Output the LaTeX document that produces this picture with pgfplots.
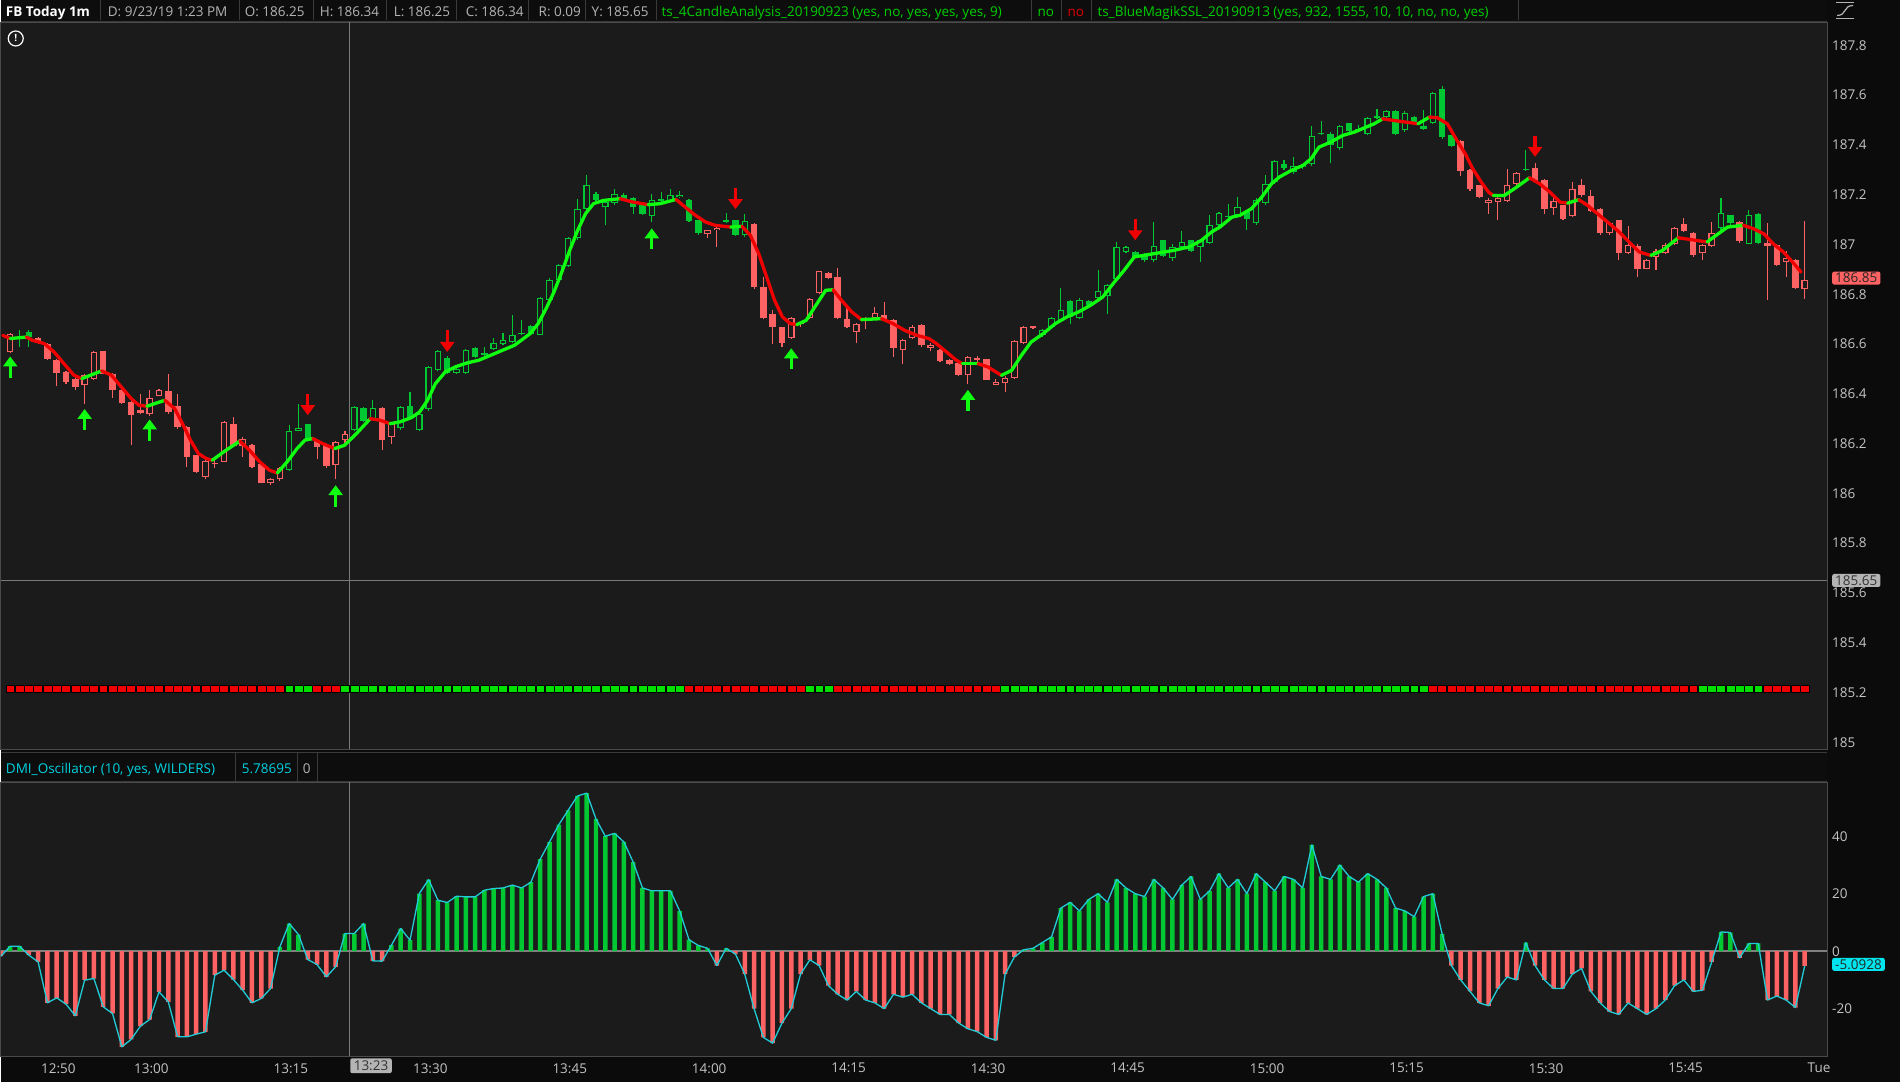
\documentclass[border=0pt]{standalone}
\usepackage{pgfplots}
\pgfplotsset{compat=1.18}
\usepackage{pgfplotstable}
\usepackage{fontspec}
\setmainfont{Open Sans}
\usetikzlibrary{arrows.meta}

\definecolor{bgout}{HTML}{0B0B0B}
\definecolor{hdrbg}{HTML}{0D0D0D}
\definecolor{hdrline}{HTML}{3A3A3A}
\definecolor{hdrgrey}{HTML}{B4B4B4}
\definecolor{hdrgreen}{HTML}{00D000}
\definecolor{hdrred}{HTML}{E00000}
\definecolor{hdrcyan}{HTML}{00D2E0}
\definecolor{plotbg}{HTML}{1B1B1B}
\definecolor{frame}{HTML}{4A4A4A}
\definecolor{ticktxt}{HTML}{C4C4C4}
\definecolor{cgreen}{HTML}{00C832}
\definecolor{cred}{HTML}{FF6262}
\definecolor{sslgreen}{HTML}{10FF10}
\definecolor{sslred}{HTML}{F00000}
\definecolor{bandred}{HTML}{F00000}
\definecolor{bandgreen}{HTML}{00E000}
\definecolor{dmicyan}{HTML}{22CCD6}
\definecolor{cross}{HTML}{7A7A7A}
\definecolor{zeroline}{HTML}{808080}
\definecolor{boxgrey}{HTML}{B4B4B4}
\definecolor{boxcyan}{HTML}{00E5EE}

\newcommand\hf{\fontsize{13.5}{16}\selectfont}

% t = minutes after 12:00; g = candle colour (1 green); b = band colour (1 green)
\pgfplotstableread{
t o h l c g b
46 186.568 186.645 186.565 186.639 0 0
47 186.620 186.655 186.590 186.625 1 0
48 186.650 186.655 186.590 186.630 1 0
49 186.625 186.628 186.600 186.605 0 0
50 186.600 186.605 186.535 186.540 0 0
51 186.535 186.540 186.430 186.485 0 0
52 186.487 186.490 186.440 186.448 0 0
53 186.460 186.470 186.414 186.428 0 0
54 186.437 186.480 186.360 186.475 0 0
55 186.460 186.570 186.455 186.568 0 0
56 186.571 186.571 186.478 186.481 0 0
57 186.481 186.485 186.385 186.414 0 0
58 186.414 186.420 186.360 186.363 0 0
59 186.367 186.370 186.194 186.314 0 0
60 186.334 186.400 186.318 186.321 0 0
61 186.317 186.414 186.310 186.385 0 0
62 186.392 186.420 186.390 186.417 0 0
63 186.410 186.481 186.320 186.327 0 0
64 186.350 186.400 186.260 186.267 0 0
65 186.267 186.270 186.106 186.147 0 0
66 186.153 186.155 186.080 186.084 0 0
67 186.066 186.135 186.056 186.129 0 0
68 186.120 186.140 186.100 186.120 0 0
69 186.127 186.290 186.125 186.287 0 0
70 186.277 186.307 186.190 186.191 0 0
71 186.191 186.225 186.147 186.219 0 0
72 186.194 186.200 186.100 186.106 0 0
73 186.117 186.120 186.040 186.042 0 0
74 186.040 186.060 186.035 186.056 0 0
75 186.056 186.105 186.050 186.100 0 0
76 186.093 186.274 186.090 186.250 1 1
77 186.251 186.361 186.250 186.264 1 1
78 186.277 186.280 186.210 186.216 1 1
79 186.216 186.220 186.140 186.187 0 0
80 186.194 186.200 186.100 186.109 0 0
81 186.113 186.210 186.056 186.207 0 0
82 186.216 186.250 186.190 186.240 0 1
83 186.256 186.350 186.250 186.345 1 1
84 186.341 186.345 186.285 186.291 1 1
85 186.300 186.377 186.295 186.341 1 1
86 186.341 186.345 186.176 186.216 0 1
87 186.227 186.285 186.200 186.280 0 1
88 186.264 186.350 186.255 186.345 1 1
89 186.350 186.408 186.300 186.305 1 1
90 186.254 186.325 186.250 186.318 1 1
91 186.337 186.510 186.330 186.508 1 1
92 186.495 186.575 186.490 186.571 1 1
93 186.544 186.550 186.480 186.485 1 1
94 186.485 186.510 186.480 186.500 1 1
95 186.485 186.580 186.480 186.575 1 1
96 186.586 186.590 186.545 186.548 1 1
97 186.556 186.590 186.550 186.558 1 1
98 186.579 186.625 186.575 186.604 1 1
99 186.600 186.645 186.595 186.615 1 1
100 186.608 186.718 186.605 186.638 1 1
101 186.640 186.698 186.635 186.645 1 1
102 186.672 186.675 186.640 186.642 1 1
103 186.638 186.790 186.635 186.786 1 1
104 186.778 186.865 186.770 186.859 1 1
105 186.859 186.920 186.855 186.916 1 1
106 186.912 187.030 186.910 187.027 1 1
107 187.026 187.181 187.020 187.141 1 1
108 187.144 187.278 187.140 187.238 1 1
109 187.204 187.210 187.170 187.177 1 1
110 187.150 187.175 187.077 187.171 1 1
111 187.166 187.224 187.160 187.204 1 1
112 187.200 187.205 187.175 187.180 1 1
113 187.188 187.190 187.123 187.150 1 1
114 187.157 187.160 187.120 187.124 1 1
115 187.114 187.204 187.090 187.177 1 1
116 187.175 187.210 187.170 187.180 1 1
117 187.175 187.224 187.170 187.200 1 1
118 187.190 187.215 187.185 187.200 1 1
119 187.180 187.182 187.090 187.093 1 0
120 187.097 187.100 187.040 187.046 1 0
121 187.041 187.060 187.027 187.057 0 0
122 187.057 187.072 186.990 187.068 0 0
123 187.090 187.127 187.088 187.097 1 0
124 187.097 187.100 187.035 187.039 1 0
125 187.037 187.124 187.030 187.094 1 0
126 187.081 187.085 186.820 186.829 0 0
127 186.829 186.870 186.700 186.705 0 0
128 186.719 186.735 186.600 186.668 0 0
129 186.668 186.670 186.588 186.604 0 0
130 186.626 186.710 186.620 186.706 0 0
131 186.680 186.690 186.670 186.682 0 0
132 186.705 186.785 186.700 186.780 0 1
133 186.805 186.895 186.800 186.893 0 1
134 186.885 186.890 186.860 186.865 0 1
135 186.869 186.907 186.700 186.705 0 0
136 186.702 186.745 186.665 186.668 0 0
137 186.648 186.685 186.604 186.679 0 0
138 186.700 186.710 186.660 186.700 0 0
139 186.706 186.750 186.700 186.725 0 0
140 186.718 186.770 186.695 186.700 0 0
141 186.698 186.700 186.548 186.585 0 0
142 186.575 186.620 186.520 186.615 0 0
143 186.626 186.675 186.620 186.668 0 0
144 186.675 186.680 186.590 186.595 0 0
145 186.585 186.605 186.570 186.596 0 0
146 186.578 186.580 186.528 186.532 0 0
147 186.535 186.540 186.515 186.518 0 0
148 186.525 186.530 186.470 186.474 0 0
149 186.474 186.552 186.440 186.548 0 0
150 186.537 186.550 186.525 186.538 0 0
151 186.538 186.540 186.455 186.457 0 0
152 186.437 186.460 186.435 186.448 0 0
153 186.445 186.470 186.407 186.464 0 1
154 186.464 186.615 186.460 186.612 0 1
155 186.604 186.672 186.600 186.668 0 1
156 186.665 186.672 186.660 186.668 0 1
157 186.635 186.660 186.630 186.655 1 1
158 186.668 186.710 186.660 186.706 1 1
159 186.695 186.826 186.690 186.738 1 1
160 186.771 186.775 186.680 186.709 1 1
161 186.706 186.784 186.700 186.778 1 1
162 186.772 186.775 186.755 186.758 1 1
163 186.785 186.896 186.780 186.812 1 1
164 186.793 186.842 186.720 186.838 1 1
165 186.860 187.010 186.855 186.990 1 1
166 186.970 186.995 186.965 186.990 1 1
167 186.970 186.975 186.944 186.947 1 1
168 186.960 186.965 186.930 186.936 1 1
169 186.936 187.090 186.930 186.994 1 1
170 187.017 187.020 186.950 186.952 1 1
171 186.947 187.000 186.935 186.990 1 1
172 186.990 187.056 186.985 187.010 1 1
173 187.017 187.020 186.970 186.974 1 1
174 186.990 187.020 186.930 187.017 1 1
175 187.007 187.117 187.000 187.079 1 1
176 187.077 187.130 187.070 187.126 1 1
177 187.110 187.164 187.105 187.112 1 1
178 187.117 187.190 187.110 187.150 1 1
179 187.130 187.135 187.057 187.103 1 1
180 187.087 187.185 187.080 187.180 1 1
181 187.168 187.278 187.160 187.241 1 1
182 187.250 187.340 187.245 187.335 1 1
183 187.324 187.338 187.300 187.307 1 1
184 187.291 187.350 187.285 187.314 1 1
185 187.310 187.325 187.305 187.320 1 1
186 187.322 187.476 187.315 187.435 1 1
187 187.443 187.498 187.440 187.447 1 1
188 187.445 187.450 187.327 187.398 1 1
189 187.387 187.480 187.380 187.476 1 1
190 187.489 187.490 187.450 187.456 1 1
191 187.460 187.480 187.455 187.465 1 1
192 187.445 187.512 187.440 187.508 1 1
193 187.509 187.545 187.505 187.514 1 1
194 187.512 187.540 187.508 187.535 1 1
195 187.536 187.540 187.438 187.445 1 1
196 187.458 187.535 187.450 187.528 1 1
197 187.512 187.515 187.480 187.485 1 1
198 187.478 187.541 187.460 187.465 1 1
199 187.488 187.612 187.485 187.608 1 0
200 187.626 187.635 187.425 187.431 1 0
201 187.438 187.440 187.390 187.394 1 0
202 187.414 187.420 187.275 187.295 0 0
203 187.300 187.305 187.215 187.221 0 0
204 187.237 187.240 187.185 187.190 0 0
205 187.166 187.185 187.124 187.180 0 0
206 187.170 187.192 187.100 187.188 0 0
207 187.175 187.304 187.170 187.240 0 0
208 187.244 187.292 187.240 187.288 0 0
209 187.298 187.378 187.295 187.300 1 0
210 187.308 187.327 187.250 187.257 0 0
211 187.261 187.265 187.124 187.144 0 0
212 187.146 187.190 187.117 187.173 0 0
213 187.157 187.160 187.098 187.103 0 0
214 187.114 187.250 187.110 187.224 0 0
215 187.237 187.264 187.190 187.197 0 0
216 187.194 187.220 187.130 187.134 0 0
217 187.144 187.148 187.040 187.046 0 0
218 187.046 187.090 187.040 187.087 0 0
219 187.097 187.100 186.936 186.966 0 0
220 186.966 187.074 186.960 186.999 0 0
221 186.994 187.000 186.869 186.903 0 0
222 186.903 186.940 186.900 186.936 0 0
223 186.950 186.980 186.896 186.974 0 0
224 186.966 187.004 186.960 186.999 0 0
225 187.003 187.070 186.998 187.067 0 0
226 187.081 187.107 187.050 187.054 0 0
227 187.047 187.050 186.950 186.956 0 0
228 186.967 187.000 186.936 186.996 0 1
229 186.994 187.090 186.990 187.046 0 1
230 187.066 187.188 187.060 187.126 1 1
231 187.117 187.120 187.080 187.086 1 1
232 187.090 187.095 187.005 187.012 0 1
233 187.003 187.137 187.000 187.120 1 1
234 187.121 187.125 187.000 187.007 1 1
235 187.007 187.086 186.778 186.992 0 0
236 186.996 187.000 186.915 186.919 0 0
237 186.930 186.975 186.870 186.945 0 0
238 186.939 186.940 186.820 186.826 0 0
239 186.822 187.094 186.782 186.858 0 0
}\candles

\pgfplotstableread{
t v
45 -1.74
46 1.74
47 1.74
48 -1.39
49 -3.71
50 -17.97
51 -16.23
52 -18.43
53 -22.49
54 -10.09
55 -9.51
56 -19.36
57 -21.68
58 -33.28
59 -30.72
60 -26.09
61 -23.77
62 -14.15
63 -17.62
64 -29.8
65 -29.8
66 -28.87
67 -28.06
68 -8.35
69 -6.61
70 -9.86
71 -13.57
72 -17.97
73 -16.46
74 -12.99
75 1.51
76 9.62
77 5.8
78 -2.9
79 -4.64
80 -8.93
81 -5.45
82 6.15
83 6.15
84 9.62
85 -3.36
86 -3.48
87 2.09
88 7.88
89 3.83
90 20.06
91 24.93
92 17.74
93 16.93
94 19.13
95 18.9
96 18.9
97 21.22
98 21.8
99 22
100 23
101 22
102 24
103 32
104 38
105 44
106 49
107 54
108 55
109 46
110 40
111 41
112 38
113 31
114 22
115 21
116 21
117 21
118 14
119 4
120 2
121 1
122 -5
123 1
124 -1
125 -8
126 -20
127 -30
128 -32
129 -25
130 -20
131 -8
132 -3
133 -5
134 -12
135 -15
136 -17
137 -14
138 -17
139 -18
140 -20
141 -15
142 -16
143 -15
144 -18
145 -20
146 -22
147 -22
148 -25
149 -27
150 -28
151 -30
152 -31
153 -8
154 -2
155 0.5
156 1
157 3
158 5
159 15
160 17
161 14
162 18
163 20
164 17
165 25
166 22
167 20
168 19
169 25
170 22
171 18
172 23
173 26
174 18
175 21
176 27
177 22
178 25
179 20
180 27
181 24
182 21
183 26
184 25
185 22
186 37
187 26
188 25
189 30
190 26
191 24
192 27
193 25
194 22
195 15
196 14
197 12
198 19
199 20
200 6
201 -5
202 -10
203 -14
204 -18
205 -19
206 -13
207 -9
208 -10
209 3
210 -5
211 -10
212 -13
213 -13
214 -8
215 -6
216 -14
217 -18
218 -21
219 -22
220 -18
221 -20
222 -22
223 -20
224 -17
225 -12
226 -10
227 -14
228 -13.6
229 -3.7
230 6.7
231 6.5
232 -2.3
233 2.7
234 2.7
235 -17
236 -15.6
237 -17
238 -19.6
239 -5.0928
}\dmi

\pgfplotstableread{
t y v
46 186.462 0.088
54 186.254 0.085
61 186.210 0.087
81 185.947 0.086
115 186.981 0.084
130 186.499 0.084
149 186.331 0.085
}\uparrows

\pgfplotstableread{
t y v
78 186.400 -0.086
93 186.655 -0.087
124 187.226 -0.084
167 187.103 -0.086
210 187.435 -0.083
}\downarrows

\pgfplotsset{
  sslr/.style={sslred, line width=3.3pt, line join=round, line cap=round},
  sslg/.style={sslgreen, line width=3.3pt, line join=round, line cap=round},
  kind/.style={restrict expr to domain={2*\thisrow{g}+(\thisrow{c}>\thisrow{o})}{#1}},
}

\begin{document}
\begin{tikzpicture}[x=1pt,y=1pt]
\fill[bgout] (0,0) rectangle (1900,1082);

% top header strip
\fill[hdrbg] (0,1061) rectangle (1827,1082);
\draw[hdrline] (0,1061.5) -- (1827,1061.5);
\foreach \s in {100,239,313,386,456,528,585,656,1031,1061,1091,1518}
  \draw[hdrline, line width=1pt] (\s,1062) -- (\s,1082);
\begin{scope}[every node/.style={anchor=base west, inner sep=0pt, font=\hf}]
\node[text=white] at (5,1066) {\bfseries FB Today 1m};
\node[text=hdrgrey] at (107,1066) {D: 9/23/19 1:23 PM};
\node[text=hdrgrey] at (244,1066) {O: 186.25};
\node[text=hdrgrey] at (319,1066) {H: 186.34};
\node[text=hdrgrey] at (393,1066) {L: 186.25};
\node[text=hdrgrey] at (465,1066) {C: 186.34};
\node[text=hdrgrey] at (538,1066) {R: 0.09};
\node[text=hdrgrey] at (591,1066) {Y: 185.65};
\node[text=hdrgreen] at (661,1066) {ts\_4CandleAnalysis\_20190923 (yes, no, yes, yes, yes, 9)};
\node[text=hdrgreen] at (1037,1066) {no};
\node[text=hdrred] at (1067,1066) {no};
\node[text=hdrgreen] at (1097,1066) {ts\_BlueMagikSSL\_20190913 (yes, 932, 1555, 10, 10, no, no, yes)};
\end{scope}
% small tool icon, top right
\draw[hdrgrey, line width=1.4pt] (1836,1064) -- (1854,1064) (1836,1080) -- (1854,1080);
\draw[hdrgrey, line width=1.2pt] (1837,1067) .. controls (1847,1067) and (1843,1077) .. (1853,1077);

% oscillator header strip
\fill[hdrbg] (0,301) rectangle (1827,330);
\draw[hdrline, line width=1pt] (0,330) -- (1827,330) (0,301) -- (1827,301);
\foreach \s in {235,297,317}
  \draw[hdrline, line width=1pt] (\s,301) -- (\s,330);
\begin{scope}[every node/.style={anchor=base west, inner sep=0pt, font=\hf}]
\node[text=hdrcyan] at (5,309) {DMI\_Oscillator (10, yes, WILDERS)};
\node[text=hdrcyan] at (241,309) {5.78695};
\node[text=hdrgrey] at (302,309) {0};
\end{scope}

% price panel
\begin{axis}[
  at={(0pt,333pt)}, anchor=south west, scale only axis,
  width=1827pt, height=727pt,
  xmin=44.98, xmax=241.4, ymin=184.972, ymax=187.892,
  axis background/.style={fill=plotbg},
  axis line style={draw=frame, line width=1pt},
  clip mode=individual,
  xtick=\empty,
  ytick={185,185.2,185.4,185.6,185.8,186,186.2,186.4,186.6,186.8,187,187.2,187.4,187.6,187.8},
  yticklabel pos=right,
  major tick length=0pt,
  /pgf/number format/assume math mode=true,
  tick label style={font=\hf, text=ticktxt},
  yticklabel style={anchor=west, inner sep=0pt, xshift=5pt,
    /pgf/number format/fixed, /pgf/number format/precision=1},
  extra x ticks={82.5}, extra x tick labels={},
  extra x tick style={grid=major, major grid style={draw=cross, line width=1.2pt}},
  extra y ticks={185.65}, extra y tick labels={185.65},
  extra y tick style={grid=major, major grid style={draw=cross, line width=1.2pt},
    yticklabel style={fill=boxgrey, text=black!80, inner xsep=3pt, inner ysep=1.5pt, rounded corners=2pt}},
]
% wicks
\addplot[quiver={u=0, v={\thisrow{h}-\thisrow{l}}}, draw=cred, line width=1.1pt,
  restrict expr to domain={\thisrow{g}}{-0.5:0.5}] table[x=t, y=l] {\candles};
\addplot[quiver={u=0, v={\thisrow{h}-\thisrow{l}}}, draw=cgreen, line width=1.1pt,
  restrict expr to domain={\thisrow{g}}{0.5:1.5}] table[x=t, y=l] {\candles};
% filled bodies (close below open)
\addplot[quiver={u=0, v={min(\thisrow{c}-\thisrow{o},-0.004)}}, draw=cred, line width=6.5pt,
  kind={-0.5:0.5}] table[x=t, y=o] {\candles};
\addplot[quiver={u=0, v={min(\thisrow{c}-\thisrow{o},-0.004)}}, draw=cgreen, line width=6.5pt,
  kind={1.5:2.5}] table[x=t, y=o] {\candles};
% hollow bodies (close above open)
\addplot[quiver={u=0, v={max(\thisrow{c}-\thisrow{o},0.006)}}, draw=cred, line width=6.5pt,
  kind={0.5:1.5}] table[x=t, y=o] {\candles};
\addplot[quiver={u=0, v={max(\thisrow{c}-\thisrow{o}-0.008,0)}}, draw=plotbg, line width=4.2pt,
  kind={0.5:1.5}] table[x=t, y expr=\thisrow{o}+0.004] {\candles};
\addplot[quiver={u=0, v={max(\thisrow{c}-\thisrow{o},0.006)}}, draw=cgreen, line width=6.5pt,
  kind={2.5:3.5}] table[x=t, y=o] {\candles};
\addplot[quiver={u=0, v={max(\thisrow{c}-\thisrow{o}-0.008,0)}}, draw=plotbg, line width=4.2pt,
  kind={2.5:3.5}] table[x=t, y expr=\thisrow{o}+0.004] {\candles};

% trend line
\addplot[sslr] coordinates {(45.2,186.635) (46,186.622)};
\addplot[sslg] coordinates {(46,186.622) (47.74,186.628)};
\addplot[sslr] coordinates {(47.74,186.628) (48.38,186.615) (49.65,186.602) (50.72,186.568) (51.78,186.521) (52.84,186.475) (53.69,186.461)};
\addplot[sslg] coordinates {(53.69,186.461) (55.82,186.492)};
\addplot[sslr] coordinates {(55.82,186.492) (56.88,186.475) (57.94,186.428) (59.0,186.381) (59.85,186.354) (60.7,186.350)};
\addplot[sslg] coordinates {(60.7,186.350) (62.62,186.374)};
\addplot[sslr] coordinates {(62.62,186.374) (63.68,186.341) (64.53,186.28) (65.38,186.214) (66.23,186.16) (67.08,186.14) (67.72,186.133)};
\addplot[sslg] coordinates {(67.72,186.133) (69.2,186.173) (70.69,186.21)};
\addplot[sslr] coordinates {(70.69,186.21) (71.75,186.173) (72.82,186.127) (73.88,186.093) (74.73,186.082)};
\addplot[sslg] coordinates {(74.73,186.082) (75.79,186.127) (76.85,186.18) (77.7,186.214) (78.55,186.22)};
\addplot[sslr] coordinates {(78.55,186.22) (79.6,186.2) (80.89,186.18)};
\addplot[sslg] coordinates {(80.89,186.18) (81.95,186.193) (83.23,186.24) (84.72,186.3)};
\addplot[sslr] coordinates {(84.72,186.3) (85.78,186.294) (86.84,186.28)};
\addplot[sslg] coordinates {(86.84,186.28) (87.9,186.287) (89.18,186.305) (90.03,186.327) (90.88,186.374) (91.73,186.441) (92.79,186.488) (93.85,186.508) (95.13,186.524) (96.4,186.535) (97.68,186.555) (98.95,186.575) (100.23,186.595) (101.93,186.642) (102.78,186.682) (103.63,186.742) (104.48,186.809) (105.33,186.89) (106.18,186.977) (107.03,187.057) (107.88,187.124) (108.73,187.164) (109.79,187.177) (111.6,187.184)};
\addplot[sslr] coordinates {(111.6,187.184) (112.9,187.171) (114.6,187.16)};
\addplot[sslg] coordinates {(114.6,187.16) (115.9,187.164) (117.6,187.181)};
\addplot[sslr] coordinates {(117.6,187.181) (118.6,187.15) (119.7,187.117) (120.8,187.09) (121.8,187.077) (123.5,187.07)};
\addplot[sslg] coordinates {(123.5,187.07) (124.7,187.073)};
\addplot[sslr] coordinates {(124.7,187.073) (125.6,187.037) (126.5,186.963) (127.35,186.87) (128.2,186.776) (129.05,186.709) (129.9,186.682) (130.6,186.678)};
\addplot[sslg] coordinates {(130.6,186.678) (131.6,186.695) (132.66,186.756) (133.7,186.816) (134.5,186.818)};
\addplot[sslr] coordinates {(134.5,186.818) (135.4,186.776) (136.5,186.729) (137.55,186.698)};
\addplot[sslg] coordinates {(137.55,186.698) (139.7,186.702)};
\addplot[sslr] coordinates {(139.7,186.702) (140.95,186.682) (142.2,186.655) (143.5,186.635) (144.8,186.622) (145.6,186.602) (146.7,186.568) (147.75,186.535) (148.4,186.521)};
\addplot[sslg] coordinates {(148.4,186.521) (150.1,186.521)};
\addplot[sslr] coordinates {(150.1,186.521) (151.15,186.508) (152.0,186.488) (152.6,186.474)};
\addplot[sslg] coordinates {(152.6,186.474) (153.7,186.494) (154.76,186.555) (155.8,186.608) (157.1,186.642) (158.4,186.682) (159.65,186.709) (160.9,186.729) (162.2,186.756) (163.5,186.789) (164.75,186.849) (165.8,186.896) (166.9,186.95) (169.0,186.963) (171.1,186.976) (172.8,186.99) (174.1,187.016) (175.2,187.05) (176.1,187.07) (177.4,187.11) (178.25,187.117) (179.5,187.144) (180.6,187.19) (181.65,187.244) (182.5,187.271) (183.8,187.298) (185.05,187.318) (185.9,187.344) (186.75,187.391) (188.0,187.411) (189.3,187.438) (190.6,187.452) (191.85,187.472) (192.7,187.485) (193.6,187.505)};
\addplot[sslr] coordinates {(193.6,187.505) (195.25,187.496) (197.4,187.485)};
\addplot[sslg] coordinates {(197.4,187.485) (198.65,187.512)};
\addplot[sslr] coordinates {(198.65,187.512) (199.5,187.509) (200.56,187.485) (201.6,187.418) (202.5,187.364) (203.3,187.304) (204.2,187.251) (205.0,187.21) (205.5,187.197)};
\addplot[sslg] coordinates {(205.5,187.197) (206.7,187.197) (208.0,187.23) (209.4,187.268)};
\addplot[sslr] coordinates {(209.4,187.268) (210.5,187.244) (211.6,187.21) (212.7,187.17) (213.5,187.166)};
\addplot[sslg] coordinates {(213.5,187.166) (214.7,187.18)};
\addplot[sslr] coordinates {(214.7,187.18) (215.65,187.157) (216.5,187.13) (217.8,187.09) (219.05,187.05) (220.3,187.003) (221.2,186.97) (222.45,186.956)};
\addplot[sslg] coordinates {(222.45,186.956) (223.7,186.976) (225.4,187.027)};
\addplot[sslr] coordinates {(225.4,187.027) (228.5,187.01)};
\addplot[sslg] coordinates {(228.5,187.01) (229.7,187.043) (230.7,187.07) (232.4,187.077)};
\addplot[sslr] coordinates {(232.4,187.077) (233.5,187.063) (234.6,187.043) (235.6,187.003) (236.7,186.97) (237.7,186.929) (238.6,186.889)};

% signal arrows
\addplot[quiver={u=0, v=\thisrow{v}}, draw=sslgreen, fill=sslgreen, line width=3.2pt,
  -{Triangle[width=14pt,length=10pt]}] table[x=t, y=y] {\uparrows};
\addplot[quiver={u=0, v=\thisrow{v}}, draw=sslred, fill=sslred, line width=3.2pt,
  -{Triangle[width=14pt,length=10pt]}] table[x=t, y=y] {\downarrows};

% state band
\addplot[only marks, mark=square*, mark size=4.45pt,
  mark options={draw=none, fill=bandred, yscale=0.8},
  restrict expr to domain={\thisrow{b}}{-0.5:0.5}] table[x=t, y expr=185.215] {\candles};
\addplot[only marks, mark=square*, mark size=4.45pt,
  mark options={draw=none, fill=bandgreen, yscale=0.8},
  restrict expr to domain={\thisrow{b}}{0.5:1.5}] table[x=t, y expr=185.215] {\candles};

\node[anchor=west, xshift=5pt, fill=cred, text=black!85, inner xsep=3pt, inner ysep=1.5pt,
  rounded corners=2pt, font=\hf] at (axis cs:241.4,186.865) {186.85};
\end{axis}

% oscillator panel
\begin{axis}[
  at={(0pt,26pt)}, anchor=south west, scale only axis,
  width=1827pt, height=274pt,
  xmin=44.98, xmax=241.4, ymin=-36.5, ymax=58.8,
  axis background/.style={fill=plotbg},
  axis line style={draw=frame, line width=1pt},
  clip mode=individual,
  xtick={50,60,75,90,105,120,135,150,165,180,195,210,225,240},
  xticklabels={12:50,13:00,13:15,13:30,13:45,14:00,14:15,14:30,14:45,15:00,15:15,15:30,15:45,Tue},
  xticklabel style={anchor=north west, inner sep=0pt, xshift=-6.5pt, yshift=-7pt},
  ytick={-20,20,40},
  yticklabel pos=right,
  major tick length=0pt,
  /pgf/number format/assume math mode=true,
  tick label style={font=\hf, text=ticktxt},
  yticklabel style={anchor=west, inner sep=0pt, xshift=5pt},
  extra y ticks={0},
  extra y tick style={grid=major, major grid style={draw=zeroline, line width=1.5pt}},
  extra x ticks={82.5}, extra x tick labels={13:23},
  extra x tick style={grid=major, major grid style={draw=cross, line width=1.2pt},
    xticklabel style={fill=boxgrey, text=black!80, inner xsep=3.5pt, inner ysep=2.5pt,
      xshift=7pt, yshift=5pt, rounded corners=2pt}},
]
\addplot[ybar, bar width=4.5pt, bar shift=0pt, fill=cgreen, draw=none,
  restrict y to domain=0:100] table[x=t, y=v] {\dmi};
\addplot[ybar, bar width=4.5pt, bar shift=0pt, fill=cred, draw=none,
  restrict y to domain=-100:0] table[x=t, y=v] {\dmi};
\addplot[dmicyan, line width=1.3pt, line join=round] table[x=t, y=v] {\dmi};
\node[anchor=west, xshift=5pt, fill=boxcyan, text=black!85, inner xsep=3pt, inner ysep=1.5pt,
  rounded corners=2pt, font=\hf] at (axis cs:241.4,-4.6) {-5.0928};
\end{axis}

\node[circle, draw=white, line width=1.2pt, minimum size=15pt, inner sep=0pt,
  text=white, font=\bfseries\fontsize{10}{10}\selectfont] at (15,1044) {!};
\end{tikzpicture}
\end{document}
